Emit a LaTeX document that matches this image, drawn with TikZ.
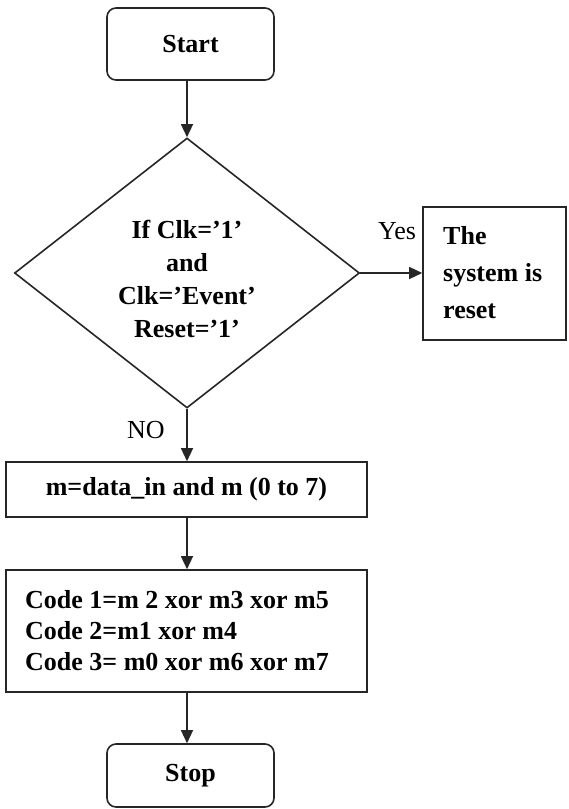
\documentclass[tikz,border=0pt]{standalone}
\usepackage{fontspec}
\setmainfont{Liberation Serif}
\usetikzlibrary{shapes.geometric,arrows.meta}

\tikzset{
  flow/.style={draw=black!85, line width=1.6pt},
  term/.style={flow, rounded corners=9pt, font=\bfseries\fontsize{26}{31}\selectfont, inner sep=0pt},
  proc/.style={flow, font=\bfseries\fontsize{26}{31}\selectfont, inner sep=0pt},
  link/.style={draw=black!85, line width=1.4pt, -{Triangle[length=13pt,width=12pt]}},
  lbl/.style={font=\fontsize{26}{31}\selectfont, inner sep=0pt}
}

\begin{document}
\begin{tikzpicture}[x=1pt,y=-1pt]
\useasboundingbox (0,0) rectangle (568,809);

% terminals
\node[term, minimum width=167pt, minimum height=72pt] (start) at (190.5,44) {Start};
\node[term, minimum width=167pt, minimum height=63pt] (stop) at (190.5,775.5) {Stop};

% decision
\node[flow, diamond, minimum width=345pt, minimum height=270pt, inner sep=0pt] (dec) at (187,273) {};
\node[font=\bfseries\fontsize{26}{33}\selectfont, align=center, inner sep=0pt] (dectext) at (187,279)
  {If Clk=’1’\\and\\Clk=’Event’\\Reset=’1’};

% reset action
\node[proc, minimum width=143pt, minimum height=133pt] (reset) at (494.5,273.5) {};
\node[font=\bfseries\fontsize{26}{37}\selectfont, align=left, inner sep=0pt, anchor=west] (resettext) at (443,273)
  {The\\system is\\reset};

% processing steps
\node[proc, minimum width=361pt, minimum height=55pt] (load) at (186.5,489.5) {m=data\_in and m (0 to 7)};
\node[proc, minimum width=361pt, minimum height=122pt] (code) at (186.5,631) {};
\node[font=\bfseries\fontsize{26}{31}\selectfont, align=left, inner sep=0pt, anchor=west] (codetext) at (25,631)
  {Code 1=m 2 xor m3 xor m5\\Code 2=m1 xor m4\\Code 3= m0 xor m6 xor m7};

% branch labels
\node[lbl] (yes) at (397,231) {Yes};
\node[lbl] (no) at (146,430) {NO};

% connectors
\draw[link] (dec.north |- start.south) -- (dec.north);
\draw[link] (dec.east) -- (reset.west |- dec.east);
\draw[link] (dec.south) -- (dec.south |- load.north);
\draw[link] (dec.south |- load.south) -- (dec.south |- code.north);
\draw[link] (dec.south |- code.south) -- (dec.south |- stop.north);
\end{tikzpicture}
\end{document}
